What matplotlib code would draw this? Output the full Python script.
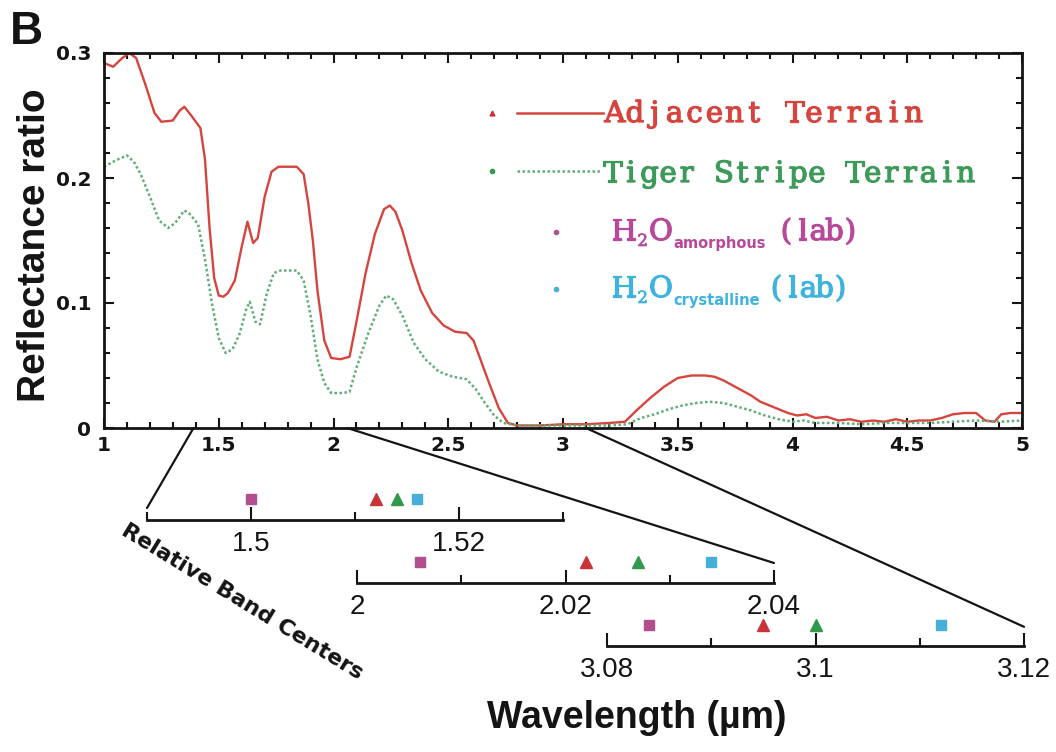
import numpy as np
import matplotlib
matplotlib.use("Agg")
import matplotlib.pyplot as plt
from matplotlib.lines import Line2D
from matplotlib.patches import ConnectionPatch
from matplotlib.ticker import MultipleLocator, FixedLocator, FixedFormatter, FuncFormatter
import matplotlib.patheffects as pe

W, H, DPI = 1056, 752, 100

# ---- reflectance-ratio spectra -------------------------------------------
wl_adjacent = [1.00, 1.04, 1.08, 1.11, 1.14, 1.18, 1.22, 1.25, 1.30, 1.33, 1.35,
               1.38, 1.42, 1.44, 1.46, 1.48, 1.50, 1.52, 1.54, 1.57, 1.60, 1.625, 1.65,
               1.67, 1.70, 1.73, 1.76, 1.80, 1.84, 1.87, 1.89, 1.91, 1.93, 1.96,
               1.99, 2.03, 2.07, 2.10, 2.14, 2.18, 2.22, 2.245, 2.27, 2.30, 2.34,
               2.38, 2.43, 2.48, 2.53, 2.58, 2.61, 2.64, 2.68, 2.72, 2.76, 2.80,
               2.90, 3.00, 3.10, 3.20, 3.27, 3.32, 3.38, 3.44, 3.50, 3.56, 3.62,
               3.66, 3.70, 3.74, 3.78, 3.82, 3.86, 3.90, 3.94, 3.98, 4.02, 4.06,
               4.10, 4.15, 4.20, 4.25, 4.30, 4.35, 4.40, 4.45, 4.50, 4.55, 4.60,
               4.65, 4.70, 4.75, 4.80, 4.84, 4.88, 4.91, 4.95, 5.00]
refl_adjacent = [0.292, 0.289, 0.296, 0.300, 0.296, 0.275, 0.252, 0.245, 0.246, 0.254, 0.257,
                 0.250, 0.240, 0.215, 0.160, 0.120, 0.106, 0.105, 0.108, 0.118, 0.145, 0.165, 0.148,
                 0.152, 0.185, 0.205, 0.209, 0.209, 0.209, 0.203, 0.180, 0.150, 0.110, 0.070,
                 0.056, 0.055, 0.057, 0.085, 0.124, 0.155, 0.175, 0.178, 0.173, 0.158, 0.132,
                 0.110, 0.092, 0.082, 0.077, 0.076, 0.070, 0.055, 0.035, 0.016, 0.004, 0.002,
                 0.002, 0.003, 0.003, 0.004, 0.005, 0.014, 0.024, 0.033, 0.040, 0.042, 0.042,
                 0.041, 0.038, 0.034, 0.030, 0.026, 0.021, 0.018, 0.015, 0.012, 0.010, 0.011,
                 0.008, 0.009, 0.006, 0.007, 0.005, 0.006, 0.005, 0.007, 0.005, 0.006, 0.006,
                 0.008, 0.011, 0.012, 0.012, 0.006, 0.005, 0.011, 0.012, 0.012]

wl_tiger = [1.00, 1.05, 1.10, 1.13, 1.16, 1.20, 1.24, 1.28, 1.31, 1.35, 1.37,
            1.41, 1.44, 1.47, 1.50, 1.53, 1.56, 1.59, 1.62, 1.635, 1.66, 1.68,
            1.71, 1.74, 1.77, 1.84, 1.87, 1.90, 1.93, 1.96, 1.99, 2.04, 2.07,
            2.10, 2.15, 2.20, 2.23, 2.26, 2.30, 2.35, 2.40, 2.46, 2.52, 2.58,
            2.62, 2.66, 2.70, 2.74, 2.80, 3.00, 3.20, 3.28, 3.34, 3.40, 3.46,
            3.52, 3.58, 3.64, 3.70, 3.76, 3.82, 3.88, 3.94, 4.00, 4.05, 4.10,
            4.20, 4.30, 4.40, 4.50, 4.60, 4.70, 4.80, 4.90, 5.00]
refl_tiger = [0.209, 0.214, 0.218, 0.213, 0.203, 0.185, 0.166, 0.160, 0.164, 0.174, 0.172,
              0.163, 0.135, 0.100, 0.072, 0.060, 0.063, 0.075, 0.095, 0.101, 0.085, 0.083,
              0.108, 0.124, 0.126, 0.126, 0.118, 0.090, 0.055, 0.036, 0.028, 0.028, 0.029,
              0.048, 0.075, 0.098, 0.106, 0.103, 0.090, 0.068, 0.055, 0.045, 0.041, 0.039,
              0.031, 0.020, 0.010, 0.004, 0.002, 0.002, 0.002, 0.003, 0.008, 0.011, 0.015,
              0.018, 0.020, 0.021, 0.020, 0.017, 0.014, 0.010, 0.007, 0.005, 0.006, 0.004,
              0.004, 0.003, 0.004, 0.004, 0.004, 0.005, 0.006, 0.005, 0.006]

# ---- relative band centres (um) in three narrow windows -------------------
band_windows = [(1.49, 1.53), (2.00, 2.04), (3.08, 3.12)]
centers_amorphous = [1.500, 2.006, 3.084]
centers_adjacent = [1.512, 2.022, 3.095]
centers_tiger = [1.514, 2.027, 3.100]
centers_crystalline = [1.516, 2.034, 3.112]
window_major_ticks = [[1.50, 1.52], [2.00, 2.02, 2.04], [3.08, 3.10, 3.12]]
window_minor_ticks = [[1.49, 1.51, 1.53], [2.01, 2.03], [3.09, 3.11]]
window_tick_labels = [["1.5", "1.52"], ["2", "2.02", "2.04"], ["3.08", "3.1", "3.12"]]
# wavelength on the main axis each window is tied to, and the window end it meets
connector_from = [1.39, 2.06, 3.10]
connector_to = [1.49, 2.04, 3.12]

RED = "#d6453d"
GREEN_LINE = "#5fae78"
GREEN_TXT = "#3e9a5a"
MAGENTA = "#b7489a"
CYAN = "#3fb3de"
RED_MK = "#c8343a"
GREEN_MK = "#2f9a4c"
MAG_MK = "#b24f8e"
CYAN_MK = "#45afd8"
INK = "#141414"


def fx(px):
    return px / W


def fy(py):
    return 1 - py / H


fig = plt.figure(figsize=(W / DPI, H / DPI), dpi=DPI)
fig.patch.set_facecolor("white")

# ---- main spectrum panel --------------------------------------------------
ax = fig.add_axes([fx(104), fy(428), (1022 - 104) / W, (428 - 53) / H])
ax.plot(wl_adjacent, refl_adjacent, color=RED, lw=1.7, solid_joinstyle="round")
ax.plot(wl_tiger, refl_tiger, color=GREEN_LINE, lw=1.8, ls=(0, (1, 1)))
ax.set_xlim(1, 5)
ax.set_ylim(0, 0.3)
ax.xaxis.set_major_locator(MultipleLocator(0.5))
ax.xaxis.set_minor_locator(MultipleLocator(0.1))
ax.yaxis.set_major_locator(MultipleLocator(0.1))
ax.yaxis.set_minor_locator(MultipleLocator(0.02))
fmt = FuncFormatter(lambda v, p: "%g" % round(v, 3))
ax.xaxis.set_major_formatter(fmt)
ax.yaxis.set_major_formatter(fmt)
ax.tick_params(which="both", direction="in", top=True, right=True, width=1.5,
               colors=INK)
ax.tick_params(which="major", length=7.5)
ax.tick_params(which="minor", length=4)
ax.tick_params(axis="x", which="major", pad=6)
ax.tick_params(axis="y", which="major", pad=9)
for lab in ax.get_xticklabels() + ax.get_yticklabels():
    lab.set_fontfamily("DejaVu Sans")
    lab.set_fontweight("bold")
    lab.set_fontsize(14.5)
for sp in ax.spines.values():
    sp.set_linewidth(2)
    sp.set_color(INK)

# ---- in-panel key ---------------------------------------------------------
fig.canvas.draw()
renderer = fig.canvas.get_renderer()
KEY_FONT = "DejaVu Serif"
KEY_SIZE = 21


def typewriter(x_px, y_px, s, color, advance=19.2, size=KEY_SIZE):
    """Place characters on a fixed pitch; returns the x after the last one."""
    for i, ch in enumerate(s):
        if ch == " ":
            continue
        t = fig.text(fx(x_px + (i + 0.5) * advance), fy(y_px), ch, ha="center",
                     va="baseline", family=KEY_FONT, fontsize=size, color=color)
        t.set_path_effects([pe.withStroke(linewidth=0.9, foreground=color)])
    return x_px + len(s) * advance


def run(x_px, y_px, s, color, size=KEY_SIZE, family=KEY_FONT, weight="normal",
        stroke=0.9):
    """Place one proportional piece of text; returns the x after it."""
    t = fig.text(fx(x_px), fy(y_px), s, ha="left", va="baseline", family=family,
                 fontweight=weight, fontsize=size, color=color)
    if stroke:
        t.set_path_effects([pe.withStroke(linewidth=stroke, foreground=color)])
    return x_px + t.get_window_extent(renderer).width


fig.add_artist(Line2D([fx(517), fx(603)], [fy(113)] * 2, color=RED, lw=1.8,
                      transform=fig.transFigure))
fig.add_artist(Line2D([fx(517), fx(600)], [fy(171)] * 2, color=GREEN_LINE, lw=1.8,
                      ls=(0, (1, 1)), transform=fig.transFigure))
fig.add_artist(Line2D([fx(492)], [fy(113)], marker="^", ms=3.5, color=RED_MK,
                      ls="none", transform=fig.transFigure))
fig.add_artist(Line2D([fx(492)], [fy(171)], marker="o", ms=3, color=GREEN_MK,
                      ls="none", transform=fig.transFigure))
fig.add_artist(Line2D([fx(556)], [fy(232)], marker="o", ms=3, color=MAG_MK,
                      ls="none", transform=fig.transFigure))
fig.add_artist(Line2D([fx(556)], [fy(289)], marker="o", ms=3, color=CYAN_MK,
                      ls="none", transform=fig.transFigure))

typewriter(605, 122, "Adjacent Terrain", RED, advance=19.9)
typewriter(603, 182, "Tiger Stripe Terrain", GREEN_TXT, advance=18.6)

for y0, phase, col, gap in [(240, "amorphous", MAGENTA, 12), (297, "crystalline", CYAN, 8)]:
    x = run(611, y0, "H", col)
    x = run(x + 1, y0 + 6, "2", col, size=12, stroke=0.5)
    x = run(x + 1, y0, "O", col)
    x = run(x + 1, y0 + 8, phase, col, size=10.5, family="DejaVu Sans", weight="bold",
            stroke=0)
    typewriter(x + gap, y0, "(lab)", col, advance=16)

# ---- band-centre windows --------------------------------------------------
window_px = [(147, 563, 520), (357, 774, 583), (607, 1024, 646)]
connector_height = [0.30, 0.50, 0.48]
INSET_H = 40
for i, ((x0, x1, yl), (lo, hi)) in enumerate(zip(window_px, band_windows)):
    ia = fig.add_axes([fx(x0), fy(yl), (x1 - x0) / W, INSET_H / H])
    ia.set_facecolor("none")
    ia.set_xlim(lo, hi)
    ia.set_ylim(0, 1)
    for s in ("top", "left", "right"):
        ia.spines[s].set_visible(False)
    ia.spines["bottom"].set_linewidth(2)
    ia.spines["bottom"].set_color(INK)
    ia.yaxis.set_visible(False)
    ia.xaxis.set_major_locator(FixedLocator(window_major_ticks[i]))
    ia.xaxis.set_major_formatter(FixedFormatter(window_tick_labels[i]))
    ia.xaxis.set_minor_locator(FixedLocator(window_minor_ticks[i]))
    ia.tick_params(which="both", direction="in", width=1.5, colors=INK, pad=8)
    ia.tick_params(which="major", length=9.5)
    ia.tick_params(which="minor", length=5.8)
    for lab in ia.get_xticklabels():
        lab.set_fontfamily("Liberation Sans")
        lab.set_fontsize(20)
        lab.set_color(INK)
    ia.plot([centers_amorphous[i]], [0.53], "s", ms=7.5, color=MAG_MK, clip_on=False)
    ia.plot([centers_adjacent[i]], [0.53], "^", ms=8.5, color=RED_MK, clip_on=False)
    ia.plot([centers_tiger[i]], [0.53], "^", ms=8.5, color=GREEN_MK, clip_on=False)
    ia.plot([centers_crystalline[i]], [0.53], "s", ms=7.5, color=CYAN_MK, clip_on=False)

    con = ConnectionPatch(xyA=(connector_from[i], 0), coordsA=ax.transData,
                          xyB=(connector_to[i], connector_height[i]), coordsB=ia.transData,
                          color=INK, lw=1.6)
    fig.add_artist(con)

fig.text(fx(242), fy(602), "Relative Band Centers", rotation=-31.5,
         rotation_mode="anchor", ha="center", va="center", family="DejaVu Sans",
         fontweight="bold", fontsize=16, color=INK)

# ---- axis titles and panel letter ----------------------------------------
fig.text(fx(35), fy(245), "Reflectance ratio", rotation=90, ha="center", va="center",
         family="Liberation Sans", fontweight="bold", fontsize=28, color=INK)
fig.text(fx(637), fy(718), "Wavelength (µm)", ha="center", va="center",
         family="Liberation Sans", fontweight="bold", fontsize=27, color=INK)
fig.text(fx(10), fy(44), "B", ha="left", va="baseline", family="Liberation Sans",
         fontweight="bold", fontsize=33, color=INK)

fig.savefig("out.png", dpi=DPI, facecolor="white")
